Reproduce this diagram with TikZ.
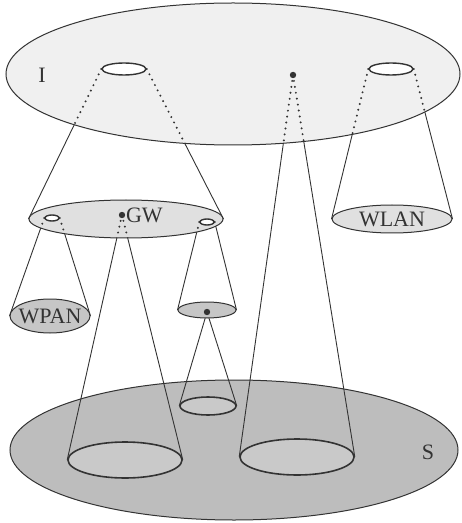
\documentclass[tikz,border=0pt]{standalone}
\usepackage{fontspec}
\setmainfont{Liberation Serif}
\usetikzlibrary{shapes.geometric,backgrounds}
\definecolor{ink}{HTML}{333333}
\definecolor{paleI}{HTML}{F0F0F0}
\definecolor{paleG}{HTML}{E0E0E0}
\definecolor{midG}{HTML}{C6C6C6}
\definecolor{deepS}{HTML}{BDBDBD}
\definecolor{spotS}{HTML}{C9C9C9}
\pgfdeclarelayer{under}
\pgfdeclarelayer{over}
\pgfdeclarelayer{top}
\pgfsetlayers{under,main,over,top}
\tikzset{
  zone/.style={ellipse, draw=ink, line width=0.5pt, inner sep=0pt},
  hole/.style={ellipse, draw=ink, fill=white, line width=0.7pt, inner sep=0pt},
  spot/.style={ellipse, draw=ink, fill=spotS, line width=0.8pt, inner sep=0pt},
  dot/.style={circle, fill=ink, inner sep=0pt, minimum size=3.2pt},
  cone/.style={draw=ink, line width=0.45pt},
  hidden/.style={draw=ink, line width=1.1pt, line cap=round, dash pattern=on 0pt off 3pt},
  lbl/.style={font=\fontsize{11}{13}\selectfont, text=ink, inner sep=0pt}
}

\begin{document}
\begin{tikzpicture}[x=0.5pt, y=-0.5pt]
  \useasboundingbox (0,0) rectangle (461,523);

  % ground level S with its footprints
  \begin{pgfonlayer}{under}
    \node[zone, fill=deepS, minimum width=224pt, minimum height=70pt] (S) at (234,450) {};
    \node[spot, minimum width=57pt, minimum height=18pt] (sL) at (125,460) {};
    \node[spot, minimum width=57pt, minimum height=18pt] (sR) at (297,457) {};
    \node[spot, minimum width=28pt, minimum height=9pt] (sM) at (208,406) {};
  \end{pgfonlayer}

  % upper levels
  \begin{pgfonlayer}{over}
    \node[zone, fill=paleI, minimum width=227pt, minimum height=71pt] (inet) at (233,74) {};
    \node[zone, fill=paleG, minimum width=97pt, minimum height=19pt] (gw) at (126,219) {};
    \node[zone, fill=paleG, minimum width=60pt, minimum height=14pt] (wlan) at (392,219) {};
    \node[zone, fill=midG, minimum width=40pt, minimum height=17pt] (wpan) at (50,316) {};
    \node[zone, fill=midG, minimum width=29pt, minimum height=8pt] (pico) at (207,310) {};
  \end{pgfonlayer}

  % openings and access points
  \begin{pgfonlayer}{top}
    \node[hole, minimum width=22pt, minimum height=6pt] (iL) at (124,69) {};
    \node[hole, minimum width=22pt, minimum height=6pt] (iR) at (391,69) {};
    \node[hole, minimum width=7pt, minimum height=3pt] (gL) at (52,218) {};
    \node[hole, minimum width=7pt, minimum height=3pt] (gR) at (207,222) {};
    \node[dot] (dI) at (293,75) {};
    \node[dot] (dG) at (122,215) {};
    \node[dot] (dP) at (207,312) {};
    \node[lbl] (lI) at (42,75) {I};
    \node[lbl, anchor=west] (lG) at (dG.east) {GW};
    \node[lbl] (lW) at (wlan) {WLAN};
    \node[lbl] (lP) at (wpan) {WPAN};
    \node[lbl] (lS) at (428,452) {S};
  \end{pgfonlayer}

  % cones
  \draw[cone] (iL.west) -- (gw.west) (iL.east) -- (gw.east);
  \draw[cone] (iR.west) -- (wlan.west) (iR.east) -- (wlan.east);
  \draw[cone] (dI.center) -- (sR.west) (dI.center) -- (sR.east);
  \draw[cone] (gL.west) -- (wpan.west) (gL.east) -- (wpan.east);
  \draw[cone] (gR.west) -- (pico.west) (gR.east) -- (pico.east);
  \draw[cone] (dG.center) -- (sL.west) (dG.center) -- (sL.east);
  \draw[cone] (dP.center) -- (sM.west) (dP.center) -- (sM.east);

  % parts seen through the upper levels
  \begin{pgfonlayer}{top}
    \begin{scope}
      \clip (inet.center) ellipse [x radius=113.5pt, y radius=35.5pt];
      \draw[hidden] (iL.west) -- (gw.west) (iL.east) -- (gw.east);
      \draw[hidden] (iR.west) -- (wlan.west) (iR.east) -- (wlan.east);
      \draw[hidden] (dI.center) -- (sR.west) (dI.center) -- (sR.east);
    \end{scope}
    \begin{scope}
      \clip (gw.center) ellipse [x radius=48.5pt, y radius=9.5pt];
      \draw[hidden] (gL.west) -- (wpan.west) (gL.east) -- (wpan.east);
      \draw[hidden] (gR.west) -- (pico.west) (gR.east) -- (pico.east);
      \draw[hidden] (dG.center) -- (sL.west) (dG.center) -- (sL.east);
    \end{scope}
  \end{pgfonlayer}
\end{tikzpicture}
\end{document}
